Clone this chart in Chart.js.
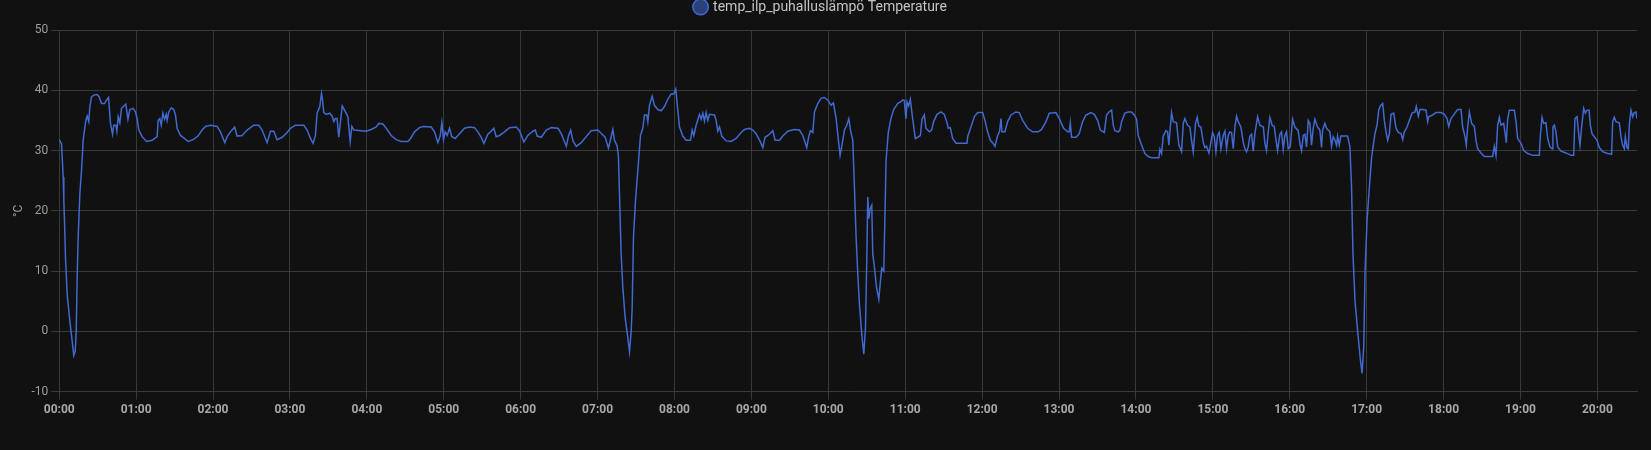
<!DOCTYPE html>
<html>
<head>
<meta charset="utf-8">
<script src="https://cdn.jsdelivr.net/npm/chart.js@4.4.1/dist/chart.umd.min.js"></script>
<style>
  html, body { margin: 0; padding: 0; background: #111111; }
  #wrap { width: 1651px; height: 450px; position: relative; }
</style>
</head>
<body>
<div id="wrap"><canvas id="c"></canvas></div>
<script>
const seriesLabel = 'temp_ilp_puhalluslämpö Temperature';
const yTitle = '°C';
const tickLabels = ['00:00','01:00','02:00','03:00','04:00','05:00','06:00','07:00','08:00','09:00','10:00','11:00','12:00','13:00','14:00','15:00','16:00','17:00','18:00','19:00','20:00'];
const tickMinutes = [0,60,120,180,240,300,360,420,480,540,600,660,720,780,840,900,960,1020,1080,1140,1200];

// minutes since 00:00
const minutes = [
0,1.8,3.1,3.6,4.2,4.9,6.2,8.3,10.1,11.4,12.5,13.3,14.0,14.8,16.1,17.4,18.7,19.5,20.8,21.8,23.1,23.9,25.2,27.0,29.6,31.2,33.0,35.4,36.7,38.5,40.0,41.6,42.6,44.2,45.0,46.0,47.3,48.6,50.4,52.0,53.6,55.1,57.7,59.5,60.8,62.1,64.7,68.1,72.5,76.4,77.2,78.5,79.6,80.9,82.2,83.5,84.2,85.5,87.4,89.4,90.7,92.0,94.6,97.2,100.6,104.5,108.2,111.5,114.1,118.0,123.2,125.8,129.2,131.0,133.6,136.8,138.8,142.7,146.6,151.8,155.7,158.3,162.2,164.8,167.4,170.0,174.0,177.8,180.4,184.3,190.8,193.4,196.0,198.1,199.9,201.2,203.3,204.6,205.4,206.4,208.5,211.1,213.0,214.2,215.5,216.8,218.1,220.8,222.6,225.2,227.0,228.3,229.9,235.6,239.5,243.4,247.3,249.4,252.5,255.1,259.0,262.9,266.8,272.0,274.1,277.2,281.1,283.8,290.2,292.8,295.4,297.2,298.5,299.8,301.1,302.7,304.5,306.3,308.9,312.3,316.2,320.1,324.0,326.6,329.2,331.3,334.4,336.5,339.1,340.9,343.5,347.4,351.3,356.5,359.1,362.5,365.6,369.5,371.4,372.9,376.1,380.0,383.9,389.1,391.7,393.7,395.6,397.4,399.0,400.8,403.4,407.2,411.1,415.0,420.2,
425.9,428.5,430.0,431.9,433.2,435.3,436.3,437.1,438.4,439.7,441.5,443.6,444.9,446.2,447.0,448.0,449.6,451.4,453.5,455.3,456.6,458.4,459.2,460.5,462.6,464.4,467.0,469.6,472.2,474.8,477.4,479.5,481.0,482.6,483.9,486.5,489.1,492.5,493.8,495.1,496.9,499.5,500.8,502.1,503.4,504.7,506.0,507.3,511.2,512.5,513.8,515.1,516.9,520.3,524.2,528.1,532.0,534.6,538.5,541.1,543.7,547.1,548.9,550.7,554.1,556.7,558.5,561.9,564.5,568.4,573.6,577.5,580.1,583.2,584.8,586.1,587.9,589.2,591.8,594.4,597.0,599.6,602.2,604.0,606.1,607.9,609.2,610.5,612.6,614.4,616.0,617.3,619.1,620.4,621.7,623.0,624.3,626.1,627.7,629.0,630.0,630.8,631.6,632.6,633.9,634.7,636.0,637.6,639.4,640.7,641.7,643.3,644.1,645.1,
646.8,648.9,651.0,654.1,656.7,658.0,659.3,660.6,661.4,662.7,664.0,665.8,667.9,669.7,671.8,673.1,674.9,676.2,678.8,680.6,682.2,684.8,687.9,690.5,692.6,693.6,695.2,697.0,699.6,708.2,708.7,711.3,713.9,716.5,720.4,722.2,724.3,726.4,728.2,730.0,732.1,733.6,734.7,735.5,737.8,739.9,742.5,746.4,749.0,751.6,755.5,759.4,763.8,766.4,769.8,772.4,777.6,780.2,783.6,786.7,788.0,788.8,789.8,793.2,795.8,798.4,801.0,804.9,807.5,810.1,812.2,
815.3,817.1,818.9,821.0,822.3,823.6,826.2,827.5,828.8,831.4,834.0,836.6,838.7,840.5,841.8,844.4,847.0,849.6,852.2,857.9,858.7,860.0,861.3,863.4,864.7,865.7,866.5,867.8,869.1,871.7,873.5,875.6,876.9,878.2,880.3,882.1,883.4,884.7,886.5,887.8,889.1,890.7,892.5,893.8,895.1,896.9,898.5,899.8,901.1,902.4,903.7,905.0,906.3,908.1,909.4,910.7,912.0,913.3,914.6,915.9,917.2,918.5,919.8,921.9,923.7,925.0,926.3,927.6,928.9,930.2,931.5,932.8,934.9,936.7,939.4,940.6,941.9,943.2,944.5,946.3,947.9,948.9,950.5,952.3,953.6,954.9,956.2,957.5,958.8,960.4,962.2,964.0,966.6,967.9,969.2,970.5,971.8,973.1,974.4,975.7,977.0,978.3,979.6,981.7,983.5,984.8,985.6,987.4,988.7,991.3,992.6,993.9,995.2,996.5,997.3,998.6,999.9,1005.1,1006.9,
1008.2,1009.3,1010.9,1013.0,1015.0,1016.4,1017.7,1018.7,1020.3,1022.1,1023.9,1025.5,1026.5,1028.1,1029.4,1030.7,1032.5,1033.8,1035.1,1036.4,1037.7,1039.0,1041.1,1042.9,1044.7,1046.8,1048.1,1049.4,1051.5,1053.3,1055.4,1057.7,1058.7,1060.3,1061.6,1063.7,1066.3,1067.6,1068.4,1071.5,1074.1,1078.0,1080.6,1082.7,1084.0,1085.8,1088.9,1091.0,1093.6,1094.9,1096.7,1097.7,1098.8,1100.1,1101.9,1104.0,1105.3,1106.6,1109.2,1111.8,1118.3,1119.6,1120.9,1122.2,1123.5,1124.8,1126.9,1127.9,1128.9,1130.0,1131.3,1135.2,1136.5,1137.8,1140.4,1142.5,1145.6,1149.5,1154.7,1155.5,1156.8,1158.1,1159.9,1161.2,1163.0,1164.6,1165.3,1166.4,1167.7,1169.0,1171.6,1175.5,1179.4,1181.5,1182.5,1184.1,1185.4,1186.4,1187.7,1189.3,1190.6,1191.9,1193.5,1194.5,1195.8,1197.6,1199.7,1201.5,1204.1,1208.0,1211.1,1211.9,1213.2,1214.5,1217.1,1218.4,1219.7,1221.0,1221.8,1223.1,1224.1,1224.9,1226.2,1227.5,1228.8,1230.1,1230.9
];

// °C
const temperature = [
31.8,31.1,25.6,21.7,17.8,12.3,6.2,1.7,-1.6,-4.0,-3.3,0.0,8.9,15.6,22.8,26.7,31.7,33.1,35.0,35.7,34.8,37.3,38.9,39.2,39.3,38.9,37.8,37.8,38.3,38.8,34.5,32.7,34.2,34.2,33.2,35.6,34.6,37.0,37.4,37.7,35.2,36.8,37.0,36.4,35.3,33.4,32.3,31.5,31.7,32.3,35.0,35.3,34.2,36.2,35.2,36.0,35.0,36.4,37.1,36.8,35.9,33.7,32.5,32.1,31.5,31.8,32.4,33.4,34.0,34.2,34.0,33.1,31.3,32.3,33.1,33.9,32.4,32.5,33.4,34.2,34.2,33.4,31.3,33.2,33.2,31.8,32.2,33.0,33.7,34.2,34.2,33.4,32.0,31.2,32.5,36.2,37.3,39.5,38.5,36.3,36.0,36.2,35.7,34.8,35.3,35.3,32.2,37.4,36.7,35.6,31.5,34.0,33.4,33.3,33.2,33.5,33.9,34.5,34.4,33.7,32.5,31.8,31.5,31.5,32.0,33.1,33.8,34.0,33.9,33.1,31.3,32.4,34.6,31.8,33.1,32.5,33.7,32.3,32.0,32.8,33.7,33.9,33.8,33.1,32.2,31.2,32.7,33.1,33.7,32.3,32.5,33.1,33.8,33.9,33.3,31.4,32.5,33.2,33.4,32.4,32.2,33.4,33.8,33.7,32.8,31.7,30.7,32.5,33.4,31.6,30.7,31.3,32.3,33.3,33.4,
32.2,30.4,31.7,33.5,31.7,30.7,28.9,22.8,12.8,7.3,2.3,-1.1,-3.4,0.0,3.9,15.6,21.7,26.7,32.5,33.7,35.9,35.9,34.8,37.5,39.0,37.5,36.8,36.6,37.3,38.5,39.4,39.4,40.2,36.7,33.9,32.4,31.7,31.7,33.4,32.5,34.2,36.0,35.2,36.2,34.9,36.3,35.0,36.0,35.9,35.0,33.2,33.9,32.4,31.6,31.5,32.0,33.0,33.5,33.7,33.4,32.8,31.4,30.5,32.2,32.7,33.3,31.7,31.7,32.4,33.2,33.5,33.4,32.5,30.5,32.4,33.3,33.0,36.4,37.8,38.7,38.8,38.4,37.5,37.9,35.3,31.7,29.2,30.7,33.4,34.2,35.3,33.4,31.7,23.9,15.6,9.5,4.5,-0.5,-3.8,0.6,11.7,22.3,18.7,20.3,20.9,12.8,10.6,7.3,5.3,8.4,10.5,10.0,18.4,28.4,
33.0,35.3,36.8,37.8,38.1,38.4,38.3,35.3,38.1,37.4,38.5,35.3,32.0,32.2,32.5,35.2,35.9,33.7,33.1,33.4,34.8,36.0,36.4,36.0,34.6,33.7,33.8,32.0,31.2,31.2,32.3,33.9,35.6,36.3,36.3,35.0,33.1,31.7,31.3,30.7,32.5,33.1,35.3,33.1,33.1,34.8,35.9,36.4,36.3,35.0,33.7,33.1,33.1,33.5,34.8,36.2,36.3,35.3,33.7,33.1,33.1,34.6,32.2,32.2,32.8,34.8,35.9,36.3,36.0,35.0,33.4,
33.0,35.9,36.4,36.7,34.2,33.3,33.1,33.4,34.8,36.2,36.4,36.4,35.9,35.2,32.5,30.9,29.5,29.0,28.8,28.8,30.2,29.5,32.4,33.3,33.1,30.9,33.1,36.3,34.8,34.6,30.9,29.8,34.5,35.3,34.2,33.9,31.7,29.8,34.5,35.5,34.0,33.9,31.4,30.5,30.7,29.6,31.4,33.0,32.3,29.8,32.5,33.0,30.3,32.5,33.2,30.3,32.5,33.1,33.0,30.3,33.9,35.7,34.8,33.9,31.4,30.3,29.8,30.6,32.4,32.7,29.9,32.8,35.6,34.2,33.9,31.2,30.0,33.1,35.5,34.2,34.0,32.3,30.0,32.7,33.1,30.2,32.5,33.1,30.3,30.6,35.2,33.9,33.3,31.2,30.0,32.5,32.7,30.6,35.0,34.5,30.9,33.7,35.2,33.9,33.4,30.5,33.4,34.5,33.7,33.1,30.7,32.3,31.8,30.9,32.4,30.9,32.4,32.4,30.7,
24.0,13.0,5.0,0.0,-4.5,-7.0,-2.7,9.5,18.4,23.9,28.9,31.4,32.8,34.2,36.7,37.4,37.8,35.0,33.1,31.7,32.8,36.0,36.2,33.7,33.0,32.8,31.8,33.1,33.9,35.0,36.2,36.4,37.3,35.7,36.8,36.8,36.7,34.8,35.6,35.9,36.3,36.3,36.0,35.3,34.0,35.3,36.2,36.8,36.8,33.9,32.3,30.9,33.9,36.4,34.5,34.0,31.7,30.3,29.6,29.0,29.0,30.7,29.2,34.2,35.5,34.2,34.5,33.0,31.3,35.2,36.7,36.7,34.8,32.0,31.2,30.0,29.5,29.2,29.2,32.5,35.5,34.5,34.6,32.0,30.6,30.3,33.9,34.2,33.1,30.6,29.9,29.6,29.2,29.2,35.3,35.6,32.8,30.9,33.9,37.0,36.2,36.7,36.7,34.2,32.8,32.3,31.7,30.5,29.8,29.5,29.4,34.8,35.5,34.8,34.6,32.3,30.9,30.3,32.3,30.5,30.3,34.2,36.7,35.6,36.3,36.4,35.3
];

const points = minutes.map((m, i) => ({ x: m, y: temperature[i] }));

Chart.defaults.font.family = 'Roboto, "Noto Sans", sans-serif';

const gridColor = '#393939';

const legendSpacing = {
  id: 'legendSpacing',
  beforeInit(chart) {
    const origFit = chart.legend.fit;
    chart.legend.fit = function () {
      origFit.call(this);
      this.height += 6;
    };
  }
};

new Chart(document.getElementById('c'), {
  type: 'line',
  data: {
    datasets: [{
      label: seriesLabel,
      data: points,
      borderColor: '#4269d0',
      backgroundColor: 'rgba(66,105,208,0.55)',
      borderWidth: 1.5,
      pointRadius: 0,
      pointHoverRadius: 0,
      tension: 0,
      fill: false
    }]
  },
  plugins: [legendSpacing],
  options: {
    responsive: true,
    maintainAspectRatio: false,
    animation: false,
    layout: { padding: { left: 5, right: 14, top: 0, bottom: 30 } },
    plugins: {
      legend: {
        position: 'top',
        labels: {
          usePointStyle: true,
          pointStyle: 'circle',
          boxWidth: 11,
          boxHeight: 11,
          padding: 0,
          color: '#c4c4c4',
          font: { size: 14 }
        }
      },
      tooltip: { enabled: false }
    },
    scales: {
      x: {
        type: 'linear',
        min: 0,
        max: minutes[minutes.length - 1],
        grid: { color: gridColor, tickLength: 8 },
        border: { color: gridColor },
        afterBuildTicks: (scale) => {
          scale.ticks = tickMinutes.map((v) => ({ value: v }));
        },
        ticks: {
          autoSkip: false,
          maxRotation: 0,
          color: '#a8a8a8',
          font: { size: 12, weight: 'bold' },
          callback: (v) => {
            const i = tickMinutes.indexOf(v);
            return i >= 0 ? tickLabels[i] : '';
          }
        }
      },
      y: {
        min: -10,
        max: 50,
        grid: { color: gridColor, tickLength: 8 },
        border: { color: gridColor },
        title: { display: true, text: yTitle, color: '#9e9e9e', font: { size: 12 }, padding: { top: 7, bottom: 2 } },
        ticks: { stepSize: 10, color: '#9e9e9e', font: { size: 12 } }
      }
    }
  }
});
</script>
</body>
</html>
